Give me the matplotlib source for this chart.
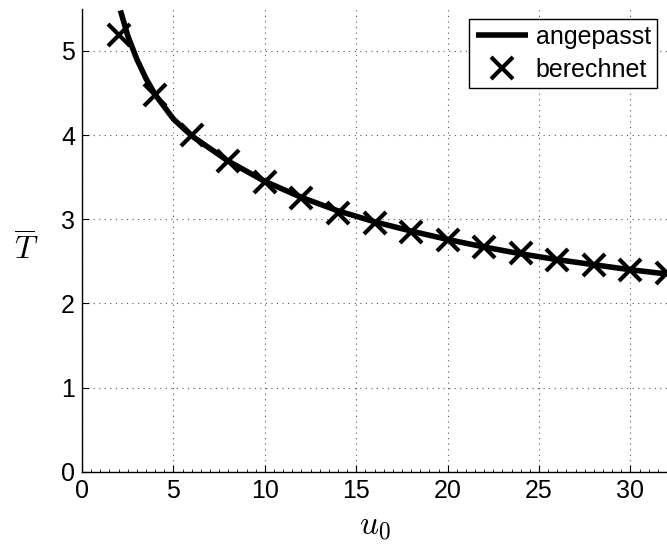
import matplotlib
matplotlib.use("Agg")
import matplotlib.pyplot as plt
from matplotlib.ticker import MultipleLocator

plt.rcParams['font.family'] = ['Liberation Sans', 'DejaVu Sans']
plt.rcParams['mathtext.fontset'] = 'cm'

# fitted curve
fit_x = [2.1, 2.5, 3, 3.5, 4, 5, 6, 8, 10, 12, 14, 16, 18, 20, 22, 24, 26, 28, 30, 32]
fit_y = [5.48, 5.18, 4.90, 4.67, 4.48, 4.19, 3.99, 3.69, 3.45, 3.26, 3.10, 2.97, 2.86,
         2.76, 2.67, 2.59, 2.52, 2.46, 2.40, 2.35]

# computed points
calc_x = [2, 4, 6, 8, 10, 12, 14, 16, 18, 20, 22, 24, 26, 28, 30, 32]
calc_y = [5.19, 4.48, 4.00, 3.69, 3.44, 3.25, 3.08, 2.95, 2.85, 2.75,
          2.67, 2.60, 2.52, 2.46, 2.40, 2.36]

xticks = [0, 5, 10, 15, 20, 25, 30]
yticks = [0, 1, 2, 3, 4, 5]

fig = plt.figure(figsize=(6.67, 5.48), dpi=100)
ax = fig.add_axes([0.123, 0.139, 0.877, 0.845])

ax.plot(fit_x, fit_y, color='black', lw=4, label='angepasst', zorder=3,
        solid_capstyle='butt', solid_joinstyle='round')
ax.plot(calc_x, calc_y, linestyle='none', marker='x', color='black',
        markersize=16, markeredgewidth=3, label='berechnet', zorder=4)

ax.set_xlim(0, 32)
ax.set_ylim(0, 5.5)
ax.set_xticks(xticks)
ax.set_yticks(yticks)
ax.xaxis.set_minor_locator(MultipleLocator(0.5))
ax.tick_params(which='major', labelsize=18, direction='in', length=5, width=0.8, pad=5)
ax.tick_params(which='minor', direction='in', length=2.5, width=0.6)
ax.grid(True, which='major', linestyle=(0, (1, 4)), color='#555555', linewidth=0.8)
ax.set_axisbelow(True)
for s in ['top', 'right']:
    ax.spines[s].set_visible(False)
for s in ['left', 'bottom']:
    ax.spines[s].set_linewidth(1.0)

ax.set_xlabel(r'$u_0$', fontsize=24, labelpad=6)
ax.set_ylabel(r'$\overline{T}$', fontsize=23, rotation=0, labelpad=22, va='center')
ax.yaxis.set_label_coords(-0.096, 0.48)

leg = ax.legend(loc='upper right', fontsize=18, frameon=True, fancybox=False,
                edgecolor='black', framealpha=1, handlelength=2.1,
                handletextpad=0.3, borderpad=0.25, labelspacing=0.35,
                borderaxespad=0.4)
leg.get_frame().set_linewidth(1.0)

fig.savefig('out.png', dpi=100)
